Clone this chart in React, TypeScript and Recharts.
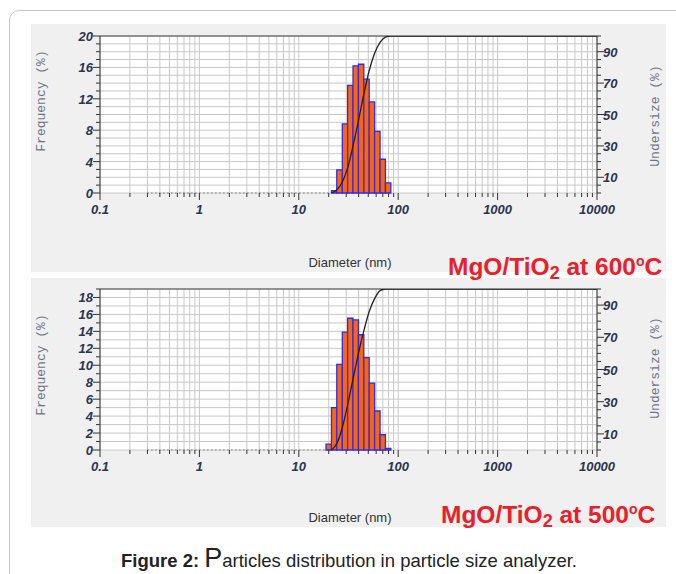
import React from 'react';
import { ComposedChart, XAxis, YAxis, CartesianGrid, Line, ReferenceArea, ReferenceLine } from 'recharts';

// bin edges (nm) of the size classes
const binEdges = [18.8, 21.3, 24.1, 27.4, 31.0, 35.1, 39.8, 45.1, 51.1, 57.9, 65.7, 74.4, 84.3];
// frequency (%) per class
const freq600 = [0, 0.3, 2.95, 8.8, 13.7, 16.2, 16.4, 14.5, 11.6, 7.85, 4.3, 1.3];
const freq500 = [0.7, 5.0, 10.1, 13.9, 15.55, 15.35, 13.6, 10.9, 7.9, 4.6, 1.8, 0.2];
// cumulative undersize curve
const cumDiam = [21.3, 24.1, 27.4, 31.0, 35.1, 39.8, 45.1, 51.1, 57.9, 65.7, 74.4, 84.3, 10000];
const cum600 = [0, 2, 7, 16, 30, 46, 63, 78, 89, 96, 99.3, 100, 100];
const cum500 = [0, 4, 14, 28, 44, 60, 74, 86, 94, 99, 100, 100, 100];

const decades = [0.1, 1, 10, 100, 1000, 10000];
const decadeLabels = ['0.1', '1', '10', '100', '1000', '10000'];
const multipliers = [1, 2, 3, 4, 5, 6, 7, 8, 9];
const xTicks = decades.flatMap((d, i) => (i === decades.length - 1 ? [d] : multipliers.map((m) => d * m)));

const leftTicks600 = Array.from({ length: 21 }, (_, i) => i);
const leftLabels600 = [0, 4, 8, 12, 16, 20];
const leftTicks500 = Array.from({ length: 20 }, (_, i) => i);
const leftLabels500 = [0, 2, 4, 6, 8, 10, 12, 14, 16, 18];
const rightTicks = Array.from({ length: 21 }, (_, i) => i * 5);
const rightLabels = [10, 30, 50, 70, 90];

const LABEL_COLOR = '#2b3450';
const AXIS_COLOR = '#333';
const tickFont = { fontFamily: 'Liberation Sans, Arial, sans-serif', fontSize: 13, fontWeight: 700, fontStyle: 'italic' as const };

const makeLeftTick = (labels: number[]) => (props: any) => {
  const { x, y, payload } = props;
  const major = labels.includes(payload.value);
  return (
    <g>
      <line x1={x - (major ? 7 : 4)} x2={x} y1={y} y2={y} stroke={AXIS_COLOR} strokeWidth={1} />
      {major && (
        <text x={x - 7} y={y} dy={5} textAnchor="end" fill={LABEL_COLOR} style={tickFont}>
          {payload.value}
        </text>
      )}
    </g>
  );
};

const RightTick = (props: any) => {
  const { x, y, payload } = props;
  const major = rightLabels.includes(payload.value);
  return (
    <g>
      <line x1={x} x2={x + (major ? 7 : 4)} y1={y} y2={y} stroke={AXIS_COLOR} strokeWidth={1} />
      {major && (
        <text x={x + 6} y={y} dy={5} textAnchor="start" fill={LABEL_COLOR} style={tickFont}>
          {payload.value}
        </text>
      )}
    </g>
  );
};

const BottomTick = (props: any) => {
  const { x, y, payload } = props;
  const idx = decades.findIndex((d) => Math.abs(d - payload.value) / d < 1e-6);
  const major = idx >= 0;
  return (
    <g>
      <line x1={x} x2={x} y1={y} y2={y + (major ? 7 : 4)} stroke={AXIS_COLOR} strokeWidth={1} />
      {major && (
        <text x={x} y={y + 21} textAnchor="middle" fill={LABEL_COLOR} style={tickFont}>
          {decadeLabels[idx]}
        </text>
      )}
    </g>
  );
};

type PanelProps = {
  top: number;
  height: number;
  plotTop: number;
  plotHeight: number;
  freq: number[];
  cum: number[];
  leftMax: number;
  leftTicks: number[];
  leftLabels: number[];
};

const Panel = ({ top, height, plotTop, plotHeight, freq, cum, leftMax, leftTicks, leftLabels }: PanelProps) => {
  const data = cumDiam.map((d, i) => ({ d, cum: cum[i] }));
  const xAxisH = 30;
  const bottom = height - plotTop - plotHeight - xAxisH;
  return (
    <div style={{ position: 'absolute', left: 31, top, width: 635, height, background: '#f0f0f0' }}>
      <ComposedChart width={635} height={height} data={data} margin={{ top: plotTop, right: 9, bottom, left: 9 }}>
        <CartesianGrid yAxisId="left" stroke="#c8c8c8" fill="#ffffff" strokeWidth={1} />
        <XAxis
          dataKey="d"
          type="number"
          scale="log"
          domain={[0.1, 10000]}
          allowDataOverflow
          ticks={xTicks}
          interval={0}
          height={xAxisH}
          axisLine={false}
          tickLine={false}
          tickSize={0}
          tickMargin={0}
          tick={<BottomTick />}
        />
        <YAxis
          yAxisId="left"
          orientation="left"
          type="number"
          domain={[0, leftMax]}
          allowDataOverflow
          ticks={leftTicks}
          interval={0}
          width={60}
          axisLine={{ stroke: AXIS_COLOR }}
          tickLine={false}
          tickSize={0}
          tickMargin={0}
          tick={makeLeftTick(leftLabels)}
        />
        <YAxis
          yAxisId="right"
          orientation="right"
          type="number"
          domain={[0, 100]}
          allowDataOverflow
          ticks={rightTicks}
          interval={0}
          width={60}
          axisLine={{ stroke: AXIS_COLOR }}
          tickLine={false}
          tickSize={0}
          tickMargin={0}
          tick={<RightTick />}
        />
        {freq.map((f, i) =>
          f > 0 ? (
            <ReferenceArea
              key={i}
              yAxisId="left"
              x1={binEdges[i]}
              x2={binEdges[i + 1]}
              y1={0}
              y2={f}
              fill="#ff6600"
              fillOpacity={1}
              stroke="#2b2bff"
              strokeWidth={1.3}
              ifOverflow="visible"
            />
          ) : null
        )}
        <ReferenceLine
          yAxisId="left"
          segment={[{ x: 0.3, y: 0 }, { x: 21, y: 0 }]}
          stroke="#444"
          strokeDasharray="1 3"
          ifOverflow="visible"
        />
        <ReferenceLine yAxisId="left" y={leftMax} stroke="#444" strokeWidth={1} />
        <Line
          yAxisId="right"
          dataKey="cum"
          type="monotone"
          stroke="#222"
          strokeWidth={1.3}
          dot={false}
          isAnimationActive={false}
        />
      </ComposedChart>
    </div>
  );
};

const axisTitle: React.CSSProperties = {
  position: 'absolute',
  transform: 'translate(-50%, -50%) rotate(-90deg)',
  whiteSpace: 'nowrap',
  fontFamily: 'Liberation Mono, DejaVu Sans Mono, monospace',
  fontSize: 13,
  color: '#6e7486',
};

const diamStyle: React.CSSProperties = {
  position: 'absolute',
  transform: 'translate(-50%, -50%)',
  whiteSpace: 'nowrap',
  fontFamily: 'Liberation Sans, Arial, sans-serif',
  fontSize: 13,
  color: '#333',
};

const redStyle: React.CSSProperties = {
  position: 'absolute',
  whiteSpace: 'nowrap',
  fontFamily: 'Liberation Sans, Arial, sans-serif',
  fontSize: 24.5,
  fontWeight: 700,
  color: '#e8202a',
  lineHeight: '26px',
};

const RedLabel = ({ left, top, temp }: { left: number; top: number; temp: string }) => (
  <div style={{ ...redStyle, left, top }}>
    MgO/TiO<span style={{ fontSize: 18, verticalAlign: -4 }}>2</span> at {temp}
    <span style={{ fontSize: 14, verticalAlign: 9 }}>o</span>C
  </div>
);

export default function App() {
  return (
    <div style={{ position: 'absolute', left: 0, top: 0, width: 676, height: 574, overflow: 'hidden', background: '#fff' }}>
      <div
        style={{
          position: 'absolute',
          left: 9,
          top: 10,
          width: 700,
          height: 600,
          border: '1px solid #c8c8c8',
          borderRadius: 10,
          boxSizing: 'border-box',
        }}
      />
      <Panel
        top={24}
        height={248}
        plotTop={12}
        plotHeight={157}
        freq={freq600}
        cum={cum600}
        leftMax={20}
        leftTicks={leftTicks600}
        leftLabels={leftLabels600}
      />
      <Panel
        top={278}
        height={249}
        plotTop={11}
        plotHeight={161}
        freq={freq500}
        cum={cum500}
        leftMax={19}
        leftTicks={leftTicks500}
        leftLabels={leftLabels500}
      />
      <div style={{ ...axisTitle, left: 41, top: 101 }}>Frequency (%)</div>
      <div style={{ ...axisTitle, left: 655, top: 116 }}>Undersize (%)</div>
      <div style={{ ...axisTitle, left: 41, top: 365 }}>Frequency (%)</div>
      <div style={{ ...axisTitle, left: 655, top: 368 }}>Undersize (%)</div>
      <div style={{ ...diamStyle, left: 350, top: 262 }}>Diameter (nm)</div>
      <div style={{ ...diamStyle, left: 350, top: 517 }}>Diameter (nm)</div>
      <RedLabel left={448} top={248} temp="600" />
      <RedLabel left={441} top={496} temp="500" />
      <div
        style={{
          position: 'absolute',
          left: 349,
          top: 558,
          transform: 'translate(-50%, -50%)',
          whiteSpace: 'nowrap',
          fontFamily: 'Liberation Sans, Arial, sans-serif',
          fontSize: 18.5,
          color: '#222',
        }}
      >
        <b>Figure 2:</b> <span style={{ fontSize: 27 }}>P</span>articles distribution in particle size analyzer.
      </div>
    </div>
  );
}
